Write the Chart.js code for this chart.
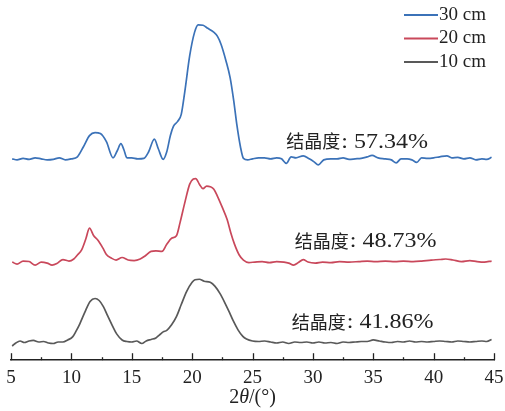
<!DOCTYPE html>
<html>
<head>
<meta charset="utf-8">
<script src="https://cdn.jsdelivr.net/npm/chart.js@4.4.1/dist/chart.umd.min.js"></script>
<style>
  html, body { margin: 0; padding: 0; background: #fff; }
  #wrap { width: 505px; height: 411px; position: relative; }
</style>
</head>
<body>
<div id="wrap"><canvas id="xrd"></canvas></div>
<script>
// series labels (legend order, top to bottom)
const seriesLabels = ["30 cm", "20 cm", "10 cm"];
const crystallinity = ["结晶度: 57.34%", "结晶度: 48.73%", "结晶度: 41.86%"];
const xTicks = [5, 10, 15, 20, 25, 30, 35, 40, 45];

// 2theta (deg) and stacked intensity
const theta30 = [5.1, 5.5, 6.0, 6.5, 7.0, 7.5, 8.0, 8.5, 9.0, 9.5, 10.0, 10.5, 11.0, 11.5, 11.96, 12.4, 12.9, 13.45, 13.8, 14.1, 14.35, 14.6, 15.0, 15.5, 16.0, 16.4, 16.87, 17.2, 17.6, 17.9, 18.2, 18.45, 18.8, 19.1, 19.4, 19.8, 20.2, 20.5, 20.9, 21.3, 21.76, 22.1, 22.4, 22.8, 23.15, 23.45, 23.7, 24.0, 24.25, 24.6, 25.0, 25.5, 26.0, 26.5, 27.0, 27.4, 27.8, 28.2, 28.6, 29.2, 29.7, 30.1, 30.45, 30.9, 31.5, 32.0, 32.5, 33.0, 33.5, 34.0, 34.5, 34.9, 35.4, 36.0, 36.5, 36.9, 37.3, 37.8, 38.2, 38.6, 39.0, 39.5, 40.0, 40.5, 41.1, 41.5, 42.0, 42.5, 43.0, 43.5, 44.0, 44.4, 44.8];
const int30 = [199, 198, 199.5, 198.5, 200, 199, 198, 198.5, 200, 198, 199, 201, 211, 222, 225, 224, 216, 200, 207, 214, 208, 200, 200, 199, 199.5, 206, 218.5, 209, 198.5, 206, 222, 231, 236, 243, 266, 301, 324, 331.5, 331, 328, 324.5, 320, 312, 296, 279, 256, 233, 211, 199.5, 198, 199, 200, 200, 199, 200, 199, 194.5, 201, 200, 202, 199, 196, 193, 198, 199, 199, 200, 198.5, 199, 199.5, 201, 202.5, 200, 199, 198, 195, 199, 199, 198, 195.5, 200, 199.5, 200, 201, 202, 200, 200.5, 199, 200, 198, 199, 198.5, 200.5];

const theta20 = [5.1, 5.5, 6.0, 6.5, 7.0, 7.5, 8.0, 8.4, 8.8, 9.3, 9.8, 10.2, 10.5, 10.85, 11.2, 11.5, 11.85, 12.2, 12.6, 12.9, 13.3, 13.7, 14.2, 14.7, 15.2, 15.7, 16.1, 16.6, 17.0, 17.5, 17.9, 18.3, 18.7, 19.0, 19.4, 19.8, 20.1, 20.3, 20.6, 20.9, 21.2, 21.5, 21.8, 22.1, 22.5, 22.9, 23.2, 23.5, 23.9, 24.25, 24.7, 25.2, 25.8, 26.4, 27.0, 27.6, 28.0, 28.4, 28.8, 29.2, 29.6, 30.2, 30.8, 31.5, 32.2, 33.0, 33.8, 34.5, 35.2, 36.0, 36.8, 37.5, 38.3, 39.0, 39.8, 40.5, 41.0, 41.6, 42.3, 43.0, 43.6, 44.2, 44.8];
const int20 = [97, 95, 98, 97.5, 94, 97, 96, 94, 95.5, 99.5, 98, 100, 104, 109, 120, 130.5, 123, 118.5, 111, 104.5, 101, 99, 101.5, 99, 98.5, 100, 103, 107.5, 108, 107.5, 114.5, 120.5, 123, 136, 156, 174, 179, 179.5, 174, 169.5, 172, 171.5, 169, 162, 151, 139, 126, 115, 104, 99, 96.5, 97, 97.5, 96.5, 97.5, 97, 96, 94, 96.5, 99.5, 97, 96, 97, 96.5, 97.5, 97, 97.5, 98, 97.5, 98, 97.5, 98, 97.5, 98, 99, 99.5, 100, 99, 97.5, 98.5, 97.5, 97, 98];

const theta10 = [5.1, 5.4, 5.75, 6.1, 6.5, 6.85, 7.3, 7.7, 8.1, 8.5, 8.9, 9.3, 9.7, 10.1, 10.4, 10.7, 11.1, 11.55, 11.96, 12.3, 12.65, 13.0, 13.4, 13.75, 14.2, 14.6, 15.0, 15.4, 15.83, 16.2, 16.6, 17.0, 17.3, 17.6, 17.9, 18.3, 18.7, 19.1, 19.55, 20.0, 20.24, 20.6, 21.0, 21.5, 21.9, 22.3, 22.7, 23.1, 23.4, 23.8, 24.2, 24.5, 25.0, 25.5, 26.0, 26.5, 27.0, 27.5, 28.0, 28.5, 29.0, 29.5, 30.0, 30.5, 31.0, 31.5, 32.0, 32.5, 33.0, 33.5, 34.0, 34.5, 35.0, 35.5, 36.0, 36.5, 37.0, 37.5, 38.0, 38.5, 39.0, 39.5, 40.0, 40.5, 41.0, 41.5, 42.0, 42.5, 43.0, 43.5, 44.0, 44.4, 44.8];
const int10 = [14, 17, 19, 17.5, 19, 19.5, 18, 18.5, 17, 16.5, 18, 18, 20, 23, 29, 36, 47, 58, 61, 59, 53, 44, 34, 26, 20, 18.5, 18, 19, 16.5, 19, 20.5, 22, 25, 28, 29.5, 35, 43, 55, 68, 77, 79.5, 80, 78, 77, 73, 66, 57, 47, 39, 30, 23.5, 21, 19, 18.5, 19, 18, 17, 18, 16.5, 18, 17.5, 18, 17, 18, 17, 17.5, 16.5, 18, 17.5, 18, 18.5, 18.5, 20, 19, 18, 17.5, 18.5, 18, 19, 18, 18.5, 18, 18.5, 19, 18.5, 18, 19, 18.5, 18, 18.5, 19, 18.5, 20.5];

const colors = ["#3b72b8", "#c9485b", "#595959"];
const thetas = [theta30, theta20, theta10];
const ints = [int30, int20, int10];

const serif = "'Liberation Serif', 'Times New Roman', serif";
const cjk = "'Noto Sans CJK SC', sans-serif";

// upward major/minor ticks on the x axis, plus the axis title
const innerTicks = {
  id: "innerTicks",
  afterDraw(chart) {
    const sx = chart.scales.x;
    const ctx = chart.ctx;
    ctx.save();
    ctx.strokeStyle = "#222";
    ctx.lineWidth = 1.3;
    for (let v = sx.min; v <= sx.max + 0.01; v += 2.5) {
      const px = Math.round(sx.getPixelForValue(v)) + 0.5;
      const len = (v % 5 === 0) ? 7 : 3;
      ctx.beginPath();
      ctx.moveTo(px, sx.top);
      ctx.lineTo(px, sx.top - len);
      ctx.stroke();
    }
    // 2θ/(°) with italic theta
    const parts = [["2", "normal"], ["θ", "italic"], ["/(°)", "normal"]];
    let w = 0;
    parts.forEach(p => { ctx.font = p[1] + " 20px " + serif; w += ctx.measureText(p[0]).width; });
    let x = (sx.left + sx.right) / 2 - w / 2;
    ctx.fillStyle = "#222";
    ctx.textBaseline = "middle";
    parts.forEach(p => {
      ctx.font = p[1] + " 20px " + serif;
      ctx.fillText(p[0], x, 398);
      x += ctx.measureText(p[0]).width;
    });
    ctx.restore();
  }
};

// crystallinity notes, placed in data coordinates
const notes = {
  id: "notes",
  afterDatasetsDraw(chart, args, opts) {
    const ctx = chart.ctx;
    ctx.save();
    ctx.fillStyle = "#222";
    ctx.textBaseline = "middle";
    opts.items.forEach(it => {
      const px = chart.scales.x.getPixelForValue(it.x);
      const py = chart.scales.y.getPixelForValue(it.y);
      const cut = it.text.indexOf(":");
      const head = it.text.slice(0, cut);
      const tail = it.text.slice(cut);
      ctx.font = "18px " + cjk;
      ctx.fillText(head, px, py);
      const hw = ctx.measureText(head).width;
      ctx.font = "20px " + serif;
      ctx.save();
      ctx.translate(px + hw + 1, py);
      ctx.scale(opts.stretch, 1);
      ctx.fillText(tail, 0, 1);
      ctx.restore();
    });
    ctx.restore();
  }
};

// stacked legend in the top right corner
const sideLegend = {
  id: "sideLegend",
  afterDraw(chart, args, opts) {
    const ctx = chart.ctx;
    ctx.save();
    ctx.font = "19px " + serif;
    ctx.textBaseline = "middle";
    chart.data.datasets.forEach((ds, i) => {
      const y = opts.top + i * opts.rowGap;
      ctx.strokeStyle = ds.borderColor;
      ctx.lineWidth = 2;
      ctx.beginPath();
      ctx.moveTo(opts.left, y);
      ctx.lineTo(opts.left + opts.lineLen, y);
      ctx.stroke();
      ctx.fillStyle = "#222";
      ctx.fillText(ds.label, opts.left + opts.lineLen + 1, y);
    });
    ctx.restore();
  }
};

new Chart(document.getElementById("xrd"), {
  type: "line",
  data: {
    datasets: seriesLabels.map((label, i) => ({
      label: label,
      data: thetas[i].map((t, j) => ({ x: t, y: ints[i][j] })),
      borderColor: colors[i],
      borderWidth: 1.7,
      pointRadius: 0,
      fill: false,
      cubicInterpolationMode: "monotone"
    }))
  },
  options: {
    responsive: true,
    maintainAspectRatio: false,
    animation: false,
    layout: { padding: { left: 11, right: 11, top: 0, bottom: 16 } },
    scales: {
      x: {
        type: "linear",
        min: 5,
        max: 45,
        afterBuildTicks(scale) { scale.ticks = xTicks.map(v => ({ value: v })); },
        afterFit(scale) { scale.paddingLeft = 0; scale.paddingRight = 0; },
        grid: { display: false, drawTicks: false },
        border: { display: true, color: "#222", width: 1.5 },
        ticks: { color: "#222", padding: 6, font: { family: serif, size: 19 } }
      },
      y: { display: false, min: 0, max: 356 }
    },
    plugins: {
      legend: { display: false },
      tooltip: { enabled: false },
      notes: {
        stretch: 1.2,
        items: [
          { text: crystallinity[0], x: 27.8, y: 216 },
          { text: crystallinity[1], x: 28.5, y: 118 },
          { text: crystallinity[2], x: 28.25, y: 38 }
        ]
      },
      sideLegend: { left: 404, top: 15, rowGap: 23.5, lineLen: 34 }
    }
  },
  plugins: [innerTicks, notes, sideLegend]
});
</script>
</body>
</html>
